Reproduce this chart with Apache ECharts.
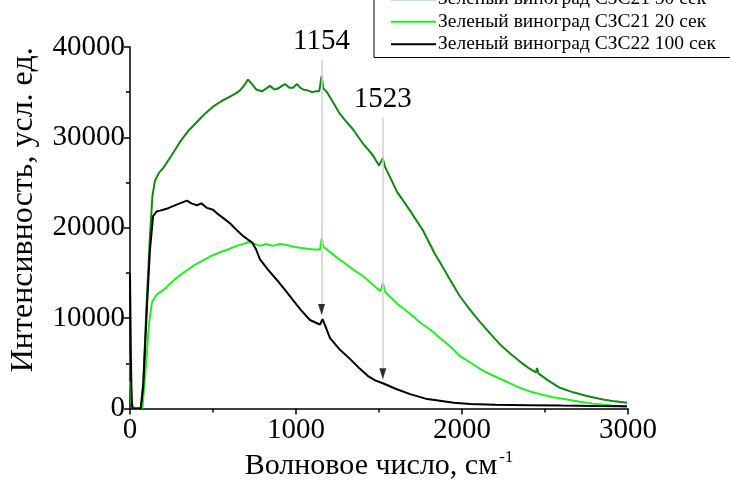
<!DOCTYPE html>
<html><head><meta charset="utf-8">
<script src="https://cdn.jsdelivr.net/npm/echarts@6/dist/echarts.min.js"></script>
<style>html,body{margin:0;padding:0;background:#fff}#c{width:730px;height:486px}</style>
</head><body><div id="c"></div>
<script>
const seriesNames = ['Зеленый виноград СЗС21 50 сек','Зеленый виноград СЗС21 20 сек','Зеленый виноград СЗС22 100 сек'];
const xTitle = 'Волновое число, см';
const yTitle = 'Интенсивность, усл. ед.';

const wnG50 = [0,8,15,40,65,80,100,120,135,150,175,200,250,301,350,403,450,500,550,602,640,663,690,711,730,760,795,820,843,870,892,915,934,960,982,1006,1025,1042,1070,1096,1120,1140,1154,1165,1187,1223,1265,1300,1343,1404,1464,1500,1512,1523,1535,1548,1608,1687,1765,1837,1867,1930,1988,2050,2108,2170,2229,2290,2349,2400,2445,2452,2460,2520,2590,2670,2752,2850,2920,2994];
const valG50 = [6000,1500,100,0,100,3000,11500,19000,23500,25200,26100,26600,28000,29500,30700,31700,32600,33400,34000,34500,34900,35200,35800,36400,36000,35300,35100,35400,35700,35300,35400,35700,35900,35500,35500,35900,35500,35300,35200,35000,35100,35100,36800,35400,35000,33900,32600,31800,30900,29300,28000,26900,26700,27700,26800,26300,24000,21900,19700,17100,16200,14200,12400,10900,9600,8300,7100,6100,5200,4500,4000,4500,3900,3100,2300,1800,1400,1000,800,660];

const wnG20 = [0,8,15,40,75,95,115,133,160,200,241,290,343,390,440,490,542,590,644,680,711,740,783,820,861,900,946,985,1024,1060,1102,1145,1154,1165,1193,1247,1300,1343,1400,1446,1488,1510,1523,1535,1548,1610,1687,1750,1825,1867,1928,1988,2050,2108,2170,2229,2290,2349,2410,2470,2550,2633,2710,2789,2900,2994];
const valG20 = [3000,800,0,0,100,4500,9500,11800,12600,13100,13800,14600,15300,15900,16400,16900,17300,17600,18000,18200,18400,18300,18000,18200,18000,18200,18100,17900,17800,17700,17600,17600,18800,17900,17500,16700,16000,15400,14700,14000,13300,13000,13900,13000,12700,11600,10500,9500,8500,7800,6900,5800,5100,4400,3800,3300,2800,2300,1900,1600,1250,1000,750,550,350,200];

const wnK100 = [0,5,10,15,40,65,80,100,120,139,160,181,220,259,300,343,370,403,430,464,500,524,560,602,640,681,710,735,760,783,830,886,935,982,1030,1084,1120,1145,1160,1175,1205,1260,1325,1380,1434,1480,1523,1600,1687,1780,1867,1950,2050,2200,2400,2600,2800,2994];
const valK100 = [15000,6000,1000,0,0,0,2500,10500,17500,21300,21800,21900,22100,22400,22700,23000,22700,22500,22700,22200,22000,21600,21100,20500,19800,19100,18700,18400,17600,16500,15400,14200,13100,12000,10900,9800,9500,9300,9900,9200,7800,6600,5500,4500,3600,3100,2800,2200,1600,1100,870,650,500,420,380,330,300,250];

const peakLabels = ['1154','1523'];
const peakWn = [1154,1523];
const peakLineTop = [38600,32200];
const peakArrowTip = [10400,3300];

const xTicks = [0,1000,2000,3000];
const yTicks = [0,10000,20000,30000,40000];

function pairs(xs, ys){ return xs.map((x,i)=>[x, ys[i]]); }

const serif = 'Liberation Serif';
const chart = echarts.init(document.getElementById('c'), null, {renderer:'canvas'});
const markData = peakWn.map((w,i)=>[
  {coord:[w, peakLineTop[i]], label:{formatter: peakLabels[i]}},
  {coord:[w, peakArrowTip[i]]}
]);
chart.setOption({
  animation:false,
  backgroundColor:'#fff',
  grid:{left:130, right:102, top:47, bottom:73, containLabel:false},
  legend:{
    data:seriesNames, orient:'vertical', left:374, top:-16,
    padding:[4,60,2,17], itemGap:0, itemWidth:45, itemHeight:2, icon:'rect',
    borderColor:'#000', borderWidth:1, backgroundColor:'#fff',
    textStyle:{fontFamily:serif, fontSize:19.5, color:'#000', lineHeight:22.5, padding:[0,0,0,-3]}
  },
  xAxis:{
    type:'value', min:0, max:3000, interval:1000,
    axisLine:{show:true, onZero:false, lineStyle:{color:'#000', width:1.5}},
    axisTick:{show:true, inside:false, length:6, lineStyle:{color:'#000', width:1.5}},
    minorTick:{show:true, splitNumber:2, length:4, lineStyle:{color:'#000', width:1.5}},
    splitLine:{show:false},
    axisLabel:{fontFamily:serif, fontSize:29, color:'#000', margin:7,
      formatter:v=> xTicks.indexOf(v)>=0 ? String(v) : ''},
    name:'{a|'+xTitle+'}{s|-1}', nameLocation:'middle', nameGap:40,
    nameTextStyle:{rich:{a:{fontFamily:serif, fontSize:30, color:'#000'}, s:{fontFamily:serif, fontSize:17, color:'#000', verticalAlign:'top', padding:[0,0,16,2]}}}
  },
  yAxis:{
    type:'value', min:0, max:40000, interval:10000,
    axisLine:{show:true, onZero:false, lineStyle:{color:'#000', width:1.5}},
    axisTick:{show:true, inside:false, length:6, lineStyle:{color:'#000', width:1.5}},
    minorTick:{show:true, splitNumber:2, length:4, lineStyle:{color:'#000', width:1.5}},
    splitLine:{show:false},
    axisLabel:{fontFamily:serif, fontSize:29, color:'#000', margin:5,
      formatter:v=> yTicks.indexOf(v)>=0 ? String(v) : ''},
    name:yTitle, nameLocation:'middle', nameGap:90,
    nameTextStyle:{fontFamily:serif, fontSize:32, color:'#000', padding:[0,0,0,36]}
  },
  series:[
    {name:seriesNames[0], type:'line', data:pairs(wnG50,valG50), showSymbol:false, symbol:'none',
     color:'#118811', lineStyle:{width:2, color:'#118811'}, z:3},
    {name:seriesNames[1], type:'line', data:pairs(wnG20,valG20), showSymbol:false, symbol:'none',
     color:'#22ee22', lineStyle:{width:2, color:'#22ee22'}, z:3},
    {name:seriesNames[2], type:'line', data:pairs(wnK100,valK100), showSymbol:false, symbol:'none',
     color:'#000', lineStyle:{width:2, color:'#000'}, z:4,
     markLine:{silent:true, symbol:['none','none'], animation:false,
       lineStyle:{color:'#cfcfcf', width:1.5, type:'solid'},
       label:{show:true, position:'start', distance:4, fontFamily:serif, fontSize:29, color:'#000'},
       data:markData}},
    {name:'arrows', type:'scatter', data:pairs(peakWn, peakArrowTip), symbol:'triangle',
     symbolSize:[7,11], symbolRotate:180, symbolOffset:[0,-5], itemStyle:{color:'#000'}, z:5, silent:true}
  ]
});
</script></body></html>
